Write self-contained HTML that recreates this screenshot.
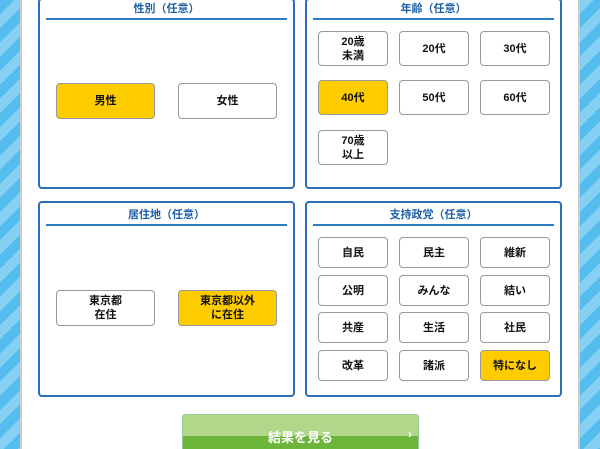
<!DOCTYPE html><html style="width:600px;height:449px;overflow:hidden"><head><meta charset="utf-8"><style>
body{margin:0;width:600px;height:449px;overflow:hidden;position:relative;font-family:"Liberation Sans","Noto Sans CJK JP",sans-serif;
background:repeating-linear-gradient(135deg,#55bdee 0 10px,#86d0f4 10px 20px);}
.wrap{position:absolute;left:20px;top:0;width:560px;height:449px;background:#fff;border-left:2px solid #ccc;border-right:2px solid #ccc;box-sizing:border-box}
.p{position:absolute;border:2px solid #2a6fb8;border-radius:4px;background:#fff;box-sizing:border-box}
.t{position:absolute;left:6px;right:6px;top:0;height:17px;border-bottom:2px solid #2f7cc6;text-align:center;color:#1d5fa8;font-size:11px;font-weight:bold;line-height:17px}
.b{position:absolute;border:1.5px solid #999;border-radius:4px;background:#fff;box-sizing:border-box;display:flex;align-items:center;justify-content:center;text-align:center;font-size:11px;font-weight:bold;line-height:14px;color:#111}
.y{background:#fc0;}
</style></head><body>
<div class="wrap"></div>
<div class="p" style="left:38px;top:-2px;width:257px;height:191px"><div class="t" style="top:1px">性別（任意）</div></div>
<div class="p" style="left:305px;top:-2px;width:257px;height:191px"><div class="t" style="top:1px">年齢（任意）</div></div>
<div class="p" style="left:38px;top:201px;width:257px;height:196px"><div class="t" style="top:4px">居住地（任意）</div></div>
<div class="p" style="left:305px;top:201px;width:257px;height:196px"><div class="t" style="top:4px">支持政党（任意）</div></div>
<div class="b y" style="left:56px;top:83px;width:99px;height:36px">男性</div>
<div class="b" style="left:178px;top:83px;width:99px;height:36px">女性</div>
<div class="b" style="left:56px;top:290px;width:99px;height:36px">東京都<br>在住</div>
<div class="b y" style="left:178px;top:290px;width:99px;height:36px">東京都以外<br>に在住</div>
<div class="b" style="left:318px;top:31px;width:70px;height:35px">20歳<br>未満</div>
<div class="b" style="left:399px;top:31px;width:70px;height:35px">20代</div>
<div class="b" style="left:480px;top:31px;width:70px;height:35px">30代</div>
<div class="b y" style="left:318px;top:80px;width:70px;height:35px">40代</div>
<div class="b" style="left:399px;top:80px;width:70px;height:35px">50代</div>
<div class="b" style="left:480px;top:80px;width:70px;height:35px">60代</div>
<div class="b" style="left:318px;top:130px;width:70px;height:35px">70歳<br>以上</div>
<div class="b" style="left:318px;top:237px;width:70px;height:31px">自民</div>
<div class="b" style="left:399px;top:237px;width:70px;height:31px">民主</div>
<div class="b" style="left:480px;top:237px;width:70px;height:31px">維新</div>
<div class="b" style="left:318px;top:275px;width:70px;height:31px">公明</div>
<div class="b" style="left:399px;top:275px;width:70px;height:31px">みんな</div>
<div class="b" style="left:480px;top:275px;width:70px;height:31px">結い</div>
<div class="b" style="left:318px;top:312px;width:70px;height:31px">共産</div>
<div class="b" style="left:399px;top:312px;width:70px;height:31px">生活</div>
<div class="b" style="left:480px;top:312px;width:70px;height:31px">社民</div>
<div class="b" style="left:318px;top:350px;width:70px;height:31px">改革</div>
<div class="b" style="left:399px;top:350px;width:70px;height:31px">諸派</div>
<div class="b y" style="left:480px;top:350px;width:70px;height:31px">特になし</div>
<div style="position:absolute;left:182px;top:414px;width:237px;height:35px;border-radius:3px 3px 0 0;background:linear-gradient(#b0d78a 0 21px,#6ab53a 21px);border:1px solid #9c9;border-bottom:none;box-sizing:border-box">
<div style="position:absolute;left:0;right:0;top:12px;text-align:center;color:#fff;font-size:13px;font-weight:bold">結果を見る</div>
<div style="position:absolute;right:6px;top:12px;color:#fff;font-size:12px;font-weight:bold">›</div></div>
</body></html>
